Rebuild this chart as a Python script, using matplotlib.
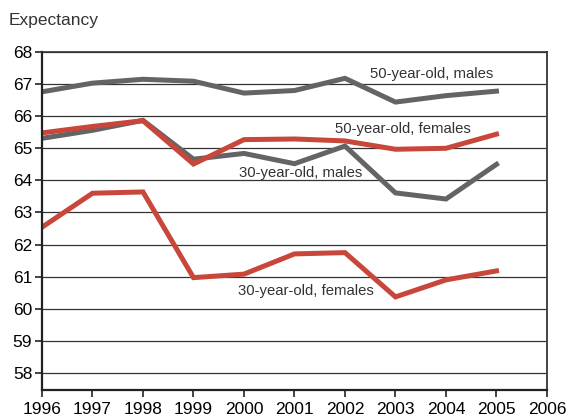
import matplotlib.pyplot as plt

plt.rcParams['font.family'] = ['Liberation Sans', 'DejaVu Sans']

years = [1996, 1997, 1998, 1999, 2000, 2001, 2002, 2003, 2004, 2005]
males_50 = [66.76, 67.03, 67.15, 67.09, 66.72, 66.80, 67.18, 66.44, 66.64, 66.78]
females_50 = [65.48, 65.68, 65.86, 64.51, 65.27, 65.29, 65.23, 64.97, 65.00, 65.44]
males_30 = [65.31, 65.56, 65.87, 64.66, 64.84, 64.52, 65.07, 63.61, 63.42, 64.50]
females_30 = [62.54, 63.60, 63.64, 60.97, 61.08, 61.71, 61.75, 60.37, 60.90, 61.18]

gray = '#646464'
red = '#c8473a'

fig = plt.figure(figsize=(5.69, 4.18), dpi=100)
ax = fig.add_axes([0.0738, 0.067, 0.8875, 0.8086])

ax.plot(years, males_50, color=gray, lw=3.6, solid_joinstyle='miter')
ax.plot(years, males_30, color=gray, lw=3.6, solid_joinstyle='miter')
ax.plot(years, females_50, color=red, lw=3.6, solid_joinstyle='miter')
ax.plot(years, females_30, color=red, lw=3.6, solid_joinstyle='miter')

ax.set_xlim(1996, 2006)
ax.set_ylim(57.47, 68)
ax.set_xticks(range(1996, 2007))
ax.set_yticks(range(58, 69))
ax.grid(axis='y', color='#333333', lw=0.9, zorder=0)
ax.set_axisbelow(True)
ax.tick_params(axis='both', labelsize=12.5, direction='out', length=5, width=1.2, color='#222222')
ax.tick_params(axis='x', pad=4)
ax.tick_params(axis='y', pad=2)

ax.spines['left'].set_linewidth(1.6)
ax.spines['left'].set_color('#222222')
ax.spines['bottom'].set_linewidth(1.6)
ax.spines['bottom'].set_color('#222222')
ax.spines['right'].set_linewidth(1.4)
ax.spines['right'].set_color('#444444')
ax.spines['top'].set_linewidth(1.2)
ax.spines['top'].set_color('#333333')

ax.text(2003.72, 67.3, '50-year-old, males', fontsize=10.7, color='#333333', ha='center', va='center')
ax.text(2003.14, 65.6, '50-year-old, females', fontsize=10.7, color='#333333', ha='center', va='center')
ax.text(2001.13, 64.24, '30-year-old, males', fontsize=10.7, color='#333333', ha='center', va='center')
ax.text(2001.23, 60.56, '30-year-old, females', fontsize=10.7, color='#333333', ha='center', va='center')

fig.text(9 / 569, 1 - 20 / 418, 'Expectancy', fontsize=12.5, color='#333333', ha='left', va='center')

fig.savefig('out.png', dpi=100)
